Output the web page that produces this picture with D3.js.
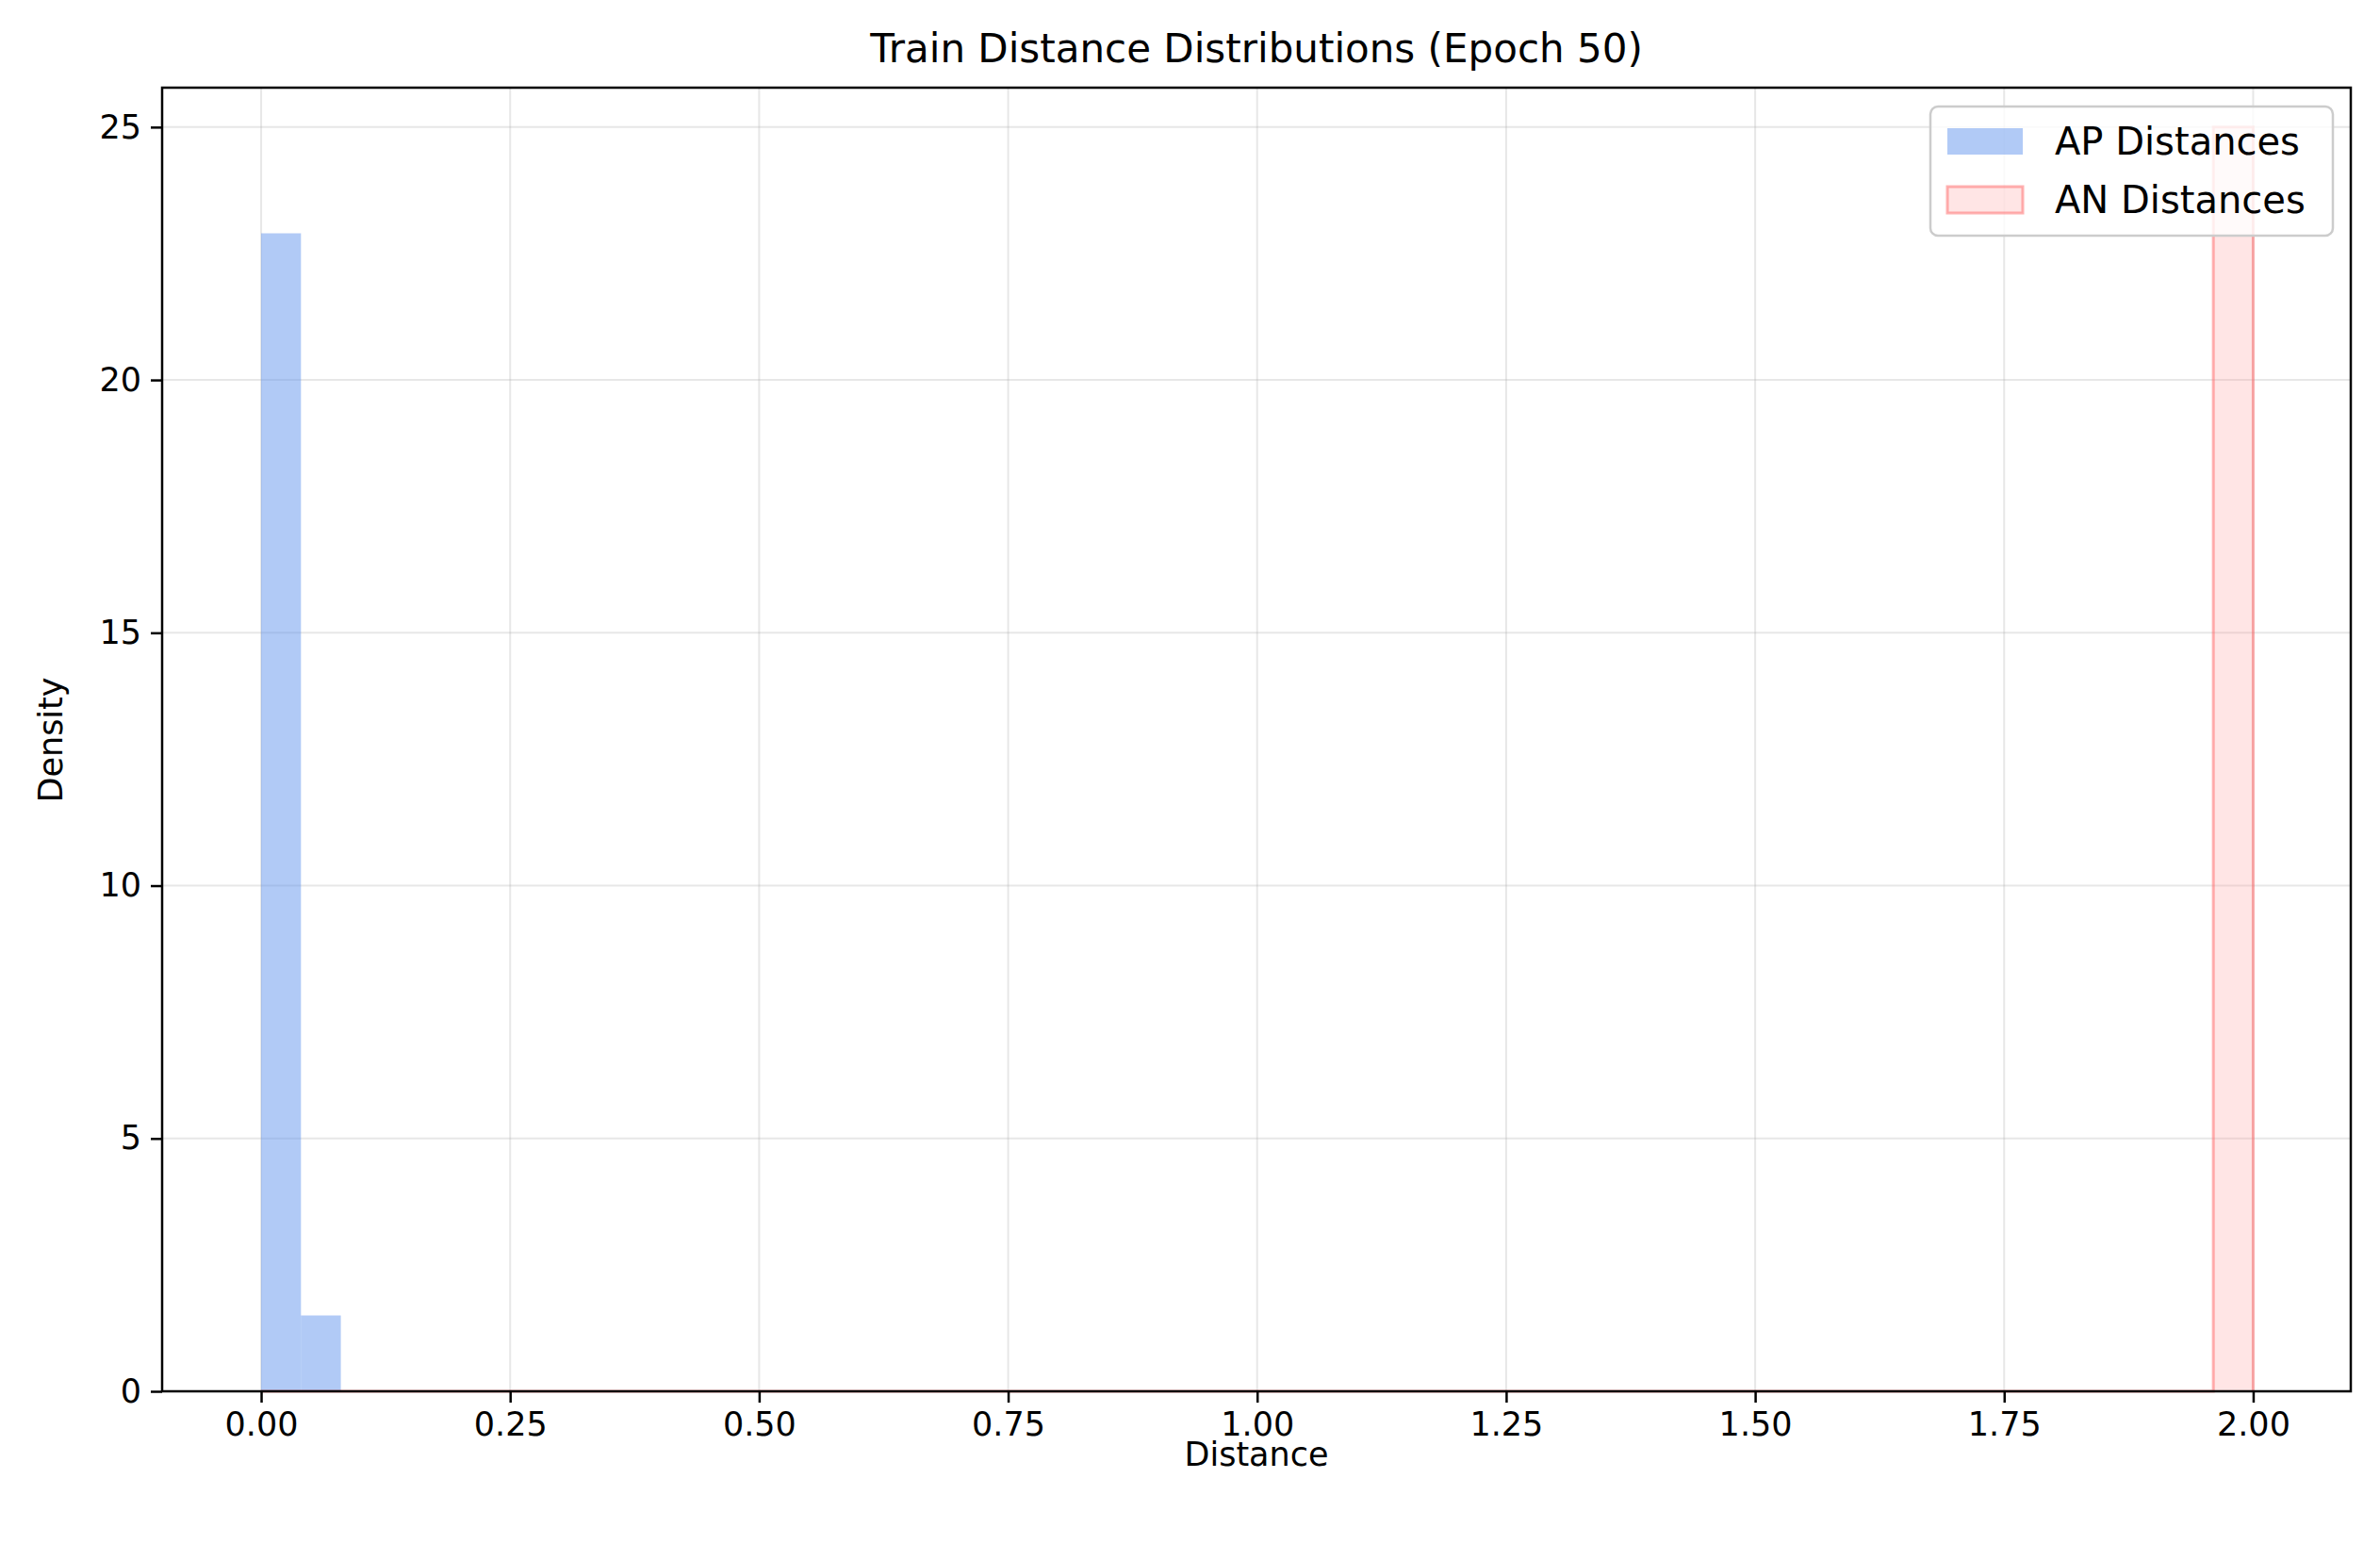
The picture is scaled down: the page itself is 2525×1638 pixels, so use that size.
<!DOCTYPE html><html><head><script src="https://cdn.jsdelivr.net/npm/d3@7"></script>
<style>body{margin:0;background:#fff}text{font-family:"DejaVu Sans";}</style></head><body><svg id="c" width="2525" height="1638"></svg>
<script>
const apBins=[[0,0.04],[0.04,0.08]];
const apDensity=[22.9,1.5];
const anBins=[[1.96,2.0]];
const anDensity=[25];
const xTicks=[0,0.25,0.5,0.75,1,1.25,1.5,1.75,2];
const yTicks=[0,5,10,15,20,25];
const svg=d3.select("#c");
const L=172,R=2494,T=93,B=1476;
const x=d3.scaleLinear().domain([-0.0994,2.098]).range([L,R]);
const y=d3.scaleLinear().domain([0,25.78]).range([B,T]);
const g=svg.append("g");
g.selectAll(".gx").data(xTicks).join("line").attr("x1",d=>x(d)).attr("x2",d=>x(d)).attr("y1",T).attr("y2",B).attr("stroke","#b0b0b0").attr("stroke-opacity",0.3).attr("stroke-width",2);
g.selectAll(".gy").data(yTicks).join("line").attr("y1",d=>y(d)).attr("y2",d=>y(d)).attr("x1",L).attr("x2",R).attr("stroke","#b0b0b0").attr("stroke-opacity",0.3).attr("stroke-width",2);
g.selectAll(".ap").data(apBins).join("rect").attr("x",d=>x(d[0])).attr("width",d=>x(d[1])-x(d[0])).attr("y",(d,i)=>y(apDensity[i])).attr("height",(d,i)=>B-y(apDensity[i])).attr("fill","#6495ed").attr("fill-opacity",0.5);
const pts=[[0,0],[anBins[0][0],0],[anBins[0][0],anDensity[0]],[anBins[0][1],anDensity[0]],[anBins[0][1],0]];
svg.append("path").attr("d",d3.line().x(d=>x(d[0])).y(d=>y(d[1]))(pts.concat([[0,0]]))).attr("fill","#ff9999").attr("fill-opacity",0.25).attr("stroke","none");
svg.append("path").attr("d",d3.line().x(d=>x(d[0])).y(d=>y(d[1]))(pts)).attr("fill","none").attr("stroke","#ff6666").attr("stroke-opacity",0.5).attr("stroke-width",3);
svg.append("rect").attr("x",L).attr("y",T).attr("width",R-L).attr("height",B-T).attr("fill","none").attr("stroke","#000").attr("stroke-width",2.5);
svg.append("g").attr("transform",`translate(0,${B})`).call(d3.axisBottom(x).tickValues(xTicks).tickFormat(d3.format(".2f")).tickSize(12).tickPadding(10)).call(a=>{a.select(".domain").remove();a.selectAll("line").attr("stroke-width",2.5);a.selectAll("text").attr("font-size",35).attr("font-family","DejaVu Sans");});
svg.append("g").attr("transform",`translate(${L},0)`).call(d3.axisLeft(y).tickValues(yTicks).tickSize(12).tickPadding(10)).call(a=>{a.select(".domain").remove();a.selectAll("line").attr("stroke-width",2.5);a.selectAll("text").attr("font-size",35).attr("font-family","DejaVu Sans");});
svg.append("text").attr("x",(L+R)/2).attr("y",66).attr("text-anchor","middle").attr("font-size",42).text("Train Distance Distributions (Epoch 50)");
svg.append("text").attr("x",(L+R)/2).attr("y",1555).attr("text-anchor","middle").attr("font-size",35).text("Distance");
svg.append("text").attr("transform","translate(66,785) rotate(-90)").attr("text-anchor","middle").attr("font-size",35).text("Density");
const lg=svg.append("g");
lg.append("rect").attr("x",2048).attr("y",113).attr("width",427).attr("height",137).attr("rx",8).attr("fill","#fff").attr("fill-opacity",0.8).attr("stroke","#ccc").attr("stroke-width",2.5);
lg.append("rect").attr("x",2066).attr("y",136).attr("width",80).attr("height",28).attr("fill","#6495ed").attr("fill-opacity",0.5);
lg.append("rect").attr("x",2066).attr("y",198).attr("width",80).attr("height",28).attr("fill","#ff9999").attr("fill-opacity",0.25).attr("stroke","#ff6666").attr("stroke-opacity",0.5).attr("stroke-width",3);
lg.append("text").attr("x",2180).attr("y",164).attr("font-size",40).text("AP Distances");
lg.append("text").attr("x",2180).attr("y",226).attr("font-size",40).text("AN Distances");
</script></body></html>
